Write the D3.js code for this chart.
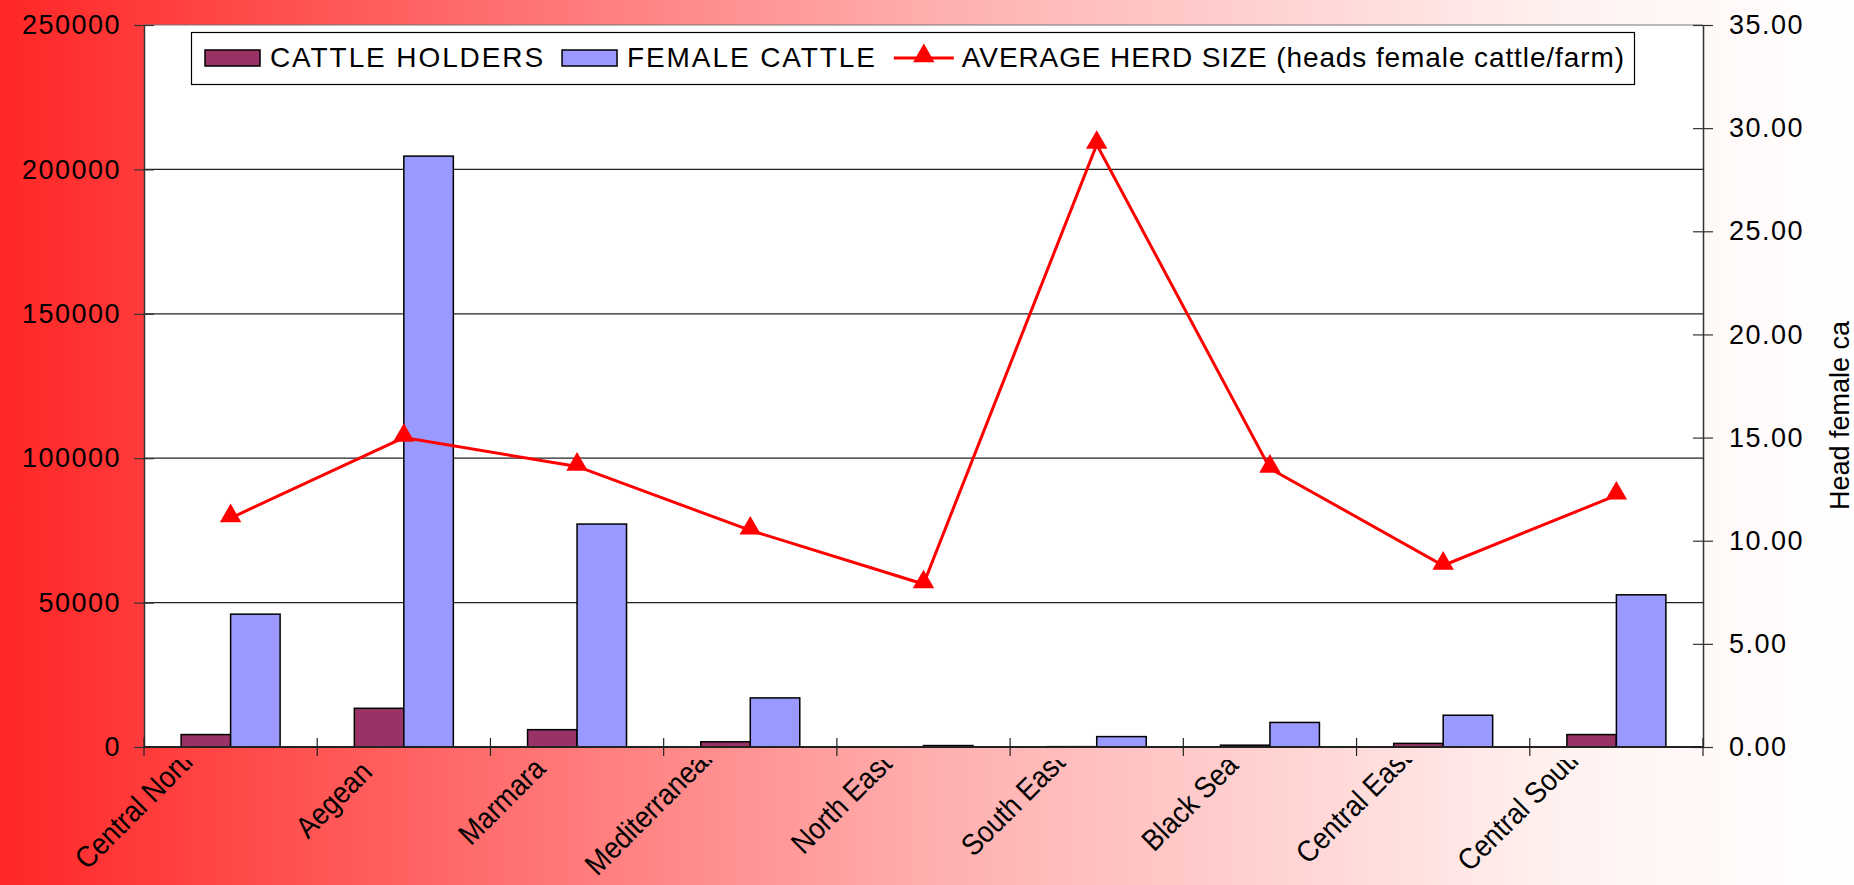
<!DOCTYPE html>
<html>
<head>
<meta charset="utf-8">
<script src="https://cdn.jsdelivr.net/npm/d3@7"></script>
<style>
  html, body { margin: 0; padding: 0; background: #fff; }
  svg { display: block; font-family: "Liberation Sans", Arial, sans-serif; }
</style>
</head>
<body>
<div id="chart"></div>
<script>
// regions and values
const regions = ["Central North", "Aegean", "Marmara", "Mediterranean", "North East",
                 "South East", "Black Sea", "Central East", "Central South"];
const cattleHolders = [4300, 13400, 6000, 1800, 65, 125, 630, 1250, 4300];
const femaleCattle = [46000, 204600, 77200, 17000, 500, 3600, 8500, 11000, 52700];
const herdSize = [11.1, 15.0, 13.6, 10.5, 7.9, 29.2, 13.5, 8.8, 12.2];

const leftTicks = [0, 50000, 100000, 150000, 200000, 250000];
const rightTicks = [0, 5, 10, 15, 20, 25, 30, 35];
const seriesNames = ["CATTLE HOLDERS", "FEMALE CATTLE", "AVERAGE HERD SIZE (heads female cattle/farm)"];
const rightTitle = "Head female ca";

const width = 1854, height = 885;
const margin = {top: 25, right: 151, bottom: 138, left: 144};
const plotW = width - margin.left - margin.right;
const plotH = height - margin.top - margin.bottom;

const colHolders = "#993366", colFemale = "#9999ff", colLine = "#ff0000";

const svg = d3.select("#chart")
    .append("svg")
    .attr("width", width)
    .attr("height", height);

// background gradient red -> white
const defs = svg.append("defs");
const grad = defs.append("linearGradient")
    .attr("id", "bg")
    .attr("x1", "0%").attr("x2", "100%")
    .attr("y1", "0%").attr("y2", "0%");
grad.append("stop").attr("offset", "0%").attr("stop-color", "#ff2626");
grad.append("stop").attr("offset", "50%").attr("stop-color", "#ffaeae");
grad.append("stop").attr("offset", "85%").attr("stop-color", "#fff3f1");
grad.append("stop").attr("offset", "100%").attr("stop-color", "#ffffff");

svg.append("rect")
    .attr("width", width)
    .attr("height", height)
    .attr("fill", "url(#bg)");

// category labels are cut just under the axis, as in the original
defs.append("clipPath").attr("id", "labelClip")
    .append("rect")
    .attr("x", 0).attr("y", margin.top + plotH + 13)
    .attr("width", width).attr("height", height);

const g = svg.append("g").attr("transform", `translate(${margin.left},${margin.top})`);

// scales
const x = d3.scaleBand().domain(regions).range([0, plotW]).paddingInner(0).paddingOuter(0);
const yL = d3.scaleLinear().domain([0, 250000]).range([plotH, 0]);
const yR = d3.scaleLinear().domain([0, 35]).range([plotH, 0]);

const barW = x.bandwidth() / 3.5;
const groupOff = x.bandwidth() * 0.75 / 3.5;

// plot area
g.append("rect")
    .attr("width", plotW)
    .attr("height", plotH)
    .attr("fill", "#fff");

// gridlines
g.append("g")
    .selectAll("line")
    .data(leftTicks.slice(1))
    .enter().append("line")
    .attr("x1", 0).attr("x2", plotW)
    .attr("y1", d => yL(d)).attr("y2", d => yL(d))
    .attr("stroke", d => d === 250000 ? "#777" : "#222")
    .attr("stroke-width", 1.2);

// bars
g.append("g")
    .selectAll("rect")
    .data(regions)
    .enter().append("rect")
    .attr("x", d => x(d) + groupOff)
    .attr("y", (d, i) => yL(cattleHolders[i]))
    .attr("width", barW)
    .attr("height", (d, i) => plotH - yL(cattleHolders[i]))
    .attr("fill", colHolders)
    .attr("stroke", "#000")
    .attr("stroke-width", 1.5);

g.append("g")
    .selectAll("rect")
    .data(regions)
    .enter().append("rect")
    .attr("x", d => x(d) + groupOff + barW)
    .attr("y", (d, i) => yL(femaleCattle[i]))
    .attr("width", barW)
    .attr("height", (d, i) => plotH - yL(femaleCattle[i]))
    .attr("fill", colFemale)
    .attr("stroke", "#000")
    .attr("stroke-width", 1.5);

// left axis
const axL = g.append("g")
    .call(d3.axisLeft(yL).tickValues(leftTicks).tickFormat(d3.format("d"))
        .tickSize(10).tickSizeOuter(0).tickPadding(13));
axL.select(".domain").attr("stroke", "#333").attr("stroke-width", 1.5);
axL.selectAll(".tick line").attr("stroke", "#333").attr("stroke-width", 1.2);
axL.selectAll(".tick").append("line").attr("x2", 10).attr("stroke", "#333").attr("stroke-width", 1.2);
axL.selectAll("text")
    .attr("fill", "#000")
    .style("font-size", "27px")
    .style("letter-spacing", "1.5px");

// right axis
const axR = g.append("g")
    .attr("transform", `translate(${plotW},0)`)
    .call(d3.axisRight(yR).tickValues(rightTicks).tickFormat(d3.format(".2f"))
        .tickSize(10).tickSizeOuter(0).tickPadding(16));
axR.select(".domain").attr("stroke", "#333").attr("stroke-width", 1.5);
axR.selectAll(".tick line").attr("stroke", "#333").attr("stroke-width", 1.2);
axR.selectAll(".tick").append("line").attr("x2", -10).attr("stroke", "#333").attr("stroke-width", 1.2);
axR.selectAll("text")
    .attr("fill", "#000")
    .style("font-size", "27px")
    .style("letter-spacing", "1.5px");

// x axis line and boundary ticks
g.append("line")
    .attr("x1", 0).attr("x2", plotW)
    .attr("y1", plotH).attr("y2", plotH)
    .attr("stroke", "#222").attr("stroke-width", 2);

g.append("g")
    .selectAll("line")
    .data(d3.range(regions.length + 1))
    .enter().append("line")
    .attr("x1", i => i * x.step()).attr("x2", i => i * x.step())
    .attr("y1", plotH - 9).attr("y2", plotH + 9)
    .attr("stroke", "#222").attr("stroke-width", 1.2);

// category labels, rotated, tall and narrow; longer names sit higher
// so their ends run into the cut under the axis, like the original
const labelScale = 0.9;
svg.append("g")
    .attr("clip-path", "url(#labelClip)")
    .selectAll("text")
    .data(regions)
    .enter().append("text")
    .attr("text-anchor", "end")
    .style("font-size", "30px")
    .text(d => d)
    .attr("transform", function(d) {
        const proj = this.getComputedTextLength() * labelScale * Math.SQRT1_2;
        const ex = margin.left + x(d) + x.bandwidth() / 2 - 30;
        const ey = margin.top + plotH + 50 - 0.35 * proj;
        return `translate(${ex},${ey}) rotate(-45) scale(${labelScale},1)`;
    });

// average herd size line
const line = d3.line()
    .x((d, i) => x(regions[i]) + x.bandwidth() / 2)
    .y(d => yR(d));

g.append("path")
    .datum(herdSize)
    .attr("d", line)
    .attr("fill", "none")
    .attr("stroke", colLine)
    .attr("stroke-width", 3);

const tri = d3.symbol(d3.symbolTriangle, 200);
g.append("g")
    .selectAll("path")
    .data(herdSize)
    .enter().append("path")
    .attr("d", tri)
    .attr("transform", (d, i) => `translate(${x(regions[i]) + x.bandwidth() / 2},${yR(d) - 2})`)
    .attr("fill", colLine);

// right axis title
svg.append("text")
    .attr("transform", `translate(1849,510) rotate(-90)`)
    .attr("text-anchor", "start")
    .style("font-size", "27px")
    .text(rightTitle);

// legend
const legend = svg.append("g").attr("class", "legend");
legend.append("rect")
    .attr("x", 191.5).attr("y", 32.5)
    .attr("width", 1443).attr("height", 52)
    .attr("fill", "#fff")
    .attr("stroke", "#000")
    .attr("stroke-width", 1.2);

let lx = 205;
const baseY = 67;
const legSpacing = ["1.9px", "1.9px", "0.9px"];
seriesNames.forEach((name, i) => {
    if (i < 2) {
        legend.append("rect")
            .attr("x", lx).attr("y", 50)
            .attr("width", 55).attr("height", 16)
            .attr("fill", i === 0 ? colHolders : colFemale)
            .attr("stroke", "#000").attr("stroke-width", 1.5);
    } else {
        legend.append("line")
            .attr("x1", lx).attr("x2", lx + 60)
            .attr("y1", 58).attr("y2", 58)
            .attr("stroke", colLine).attr("stroke-width", 3);
        legend.append("path")
            .attr("d", tri)
            .attr("transform", `translate(${lx + 30},56)`)
            .attr("fill", colLine);
    }
    const t = legend.append("text")
        .attr("x", lx + (i < 2 ? 65 : 68)).attr("y", baseY)
        .style("font-size", "28px")
        .style("letter-spacing", legSpacing[i])
        .text(name);
    lx = lx + (i < 2 ? 65 : 68) + t.node().getComputedTextLength() + 17;
});
</script>
</body>
</html>
